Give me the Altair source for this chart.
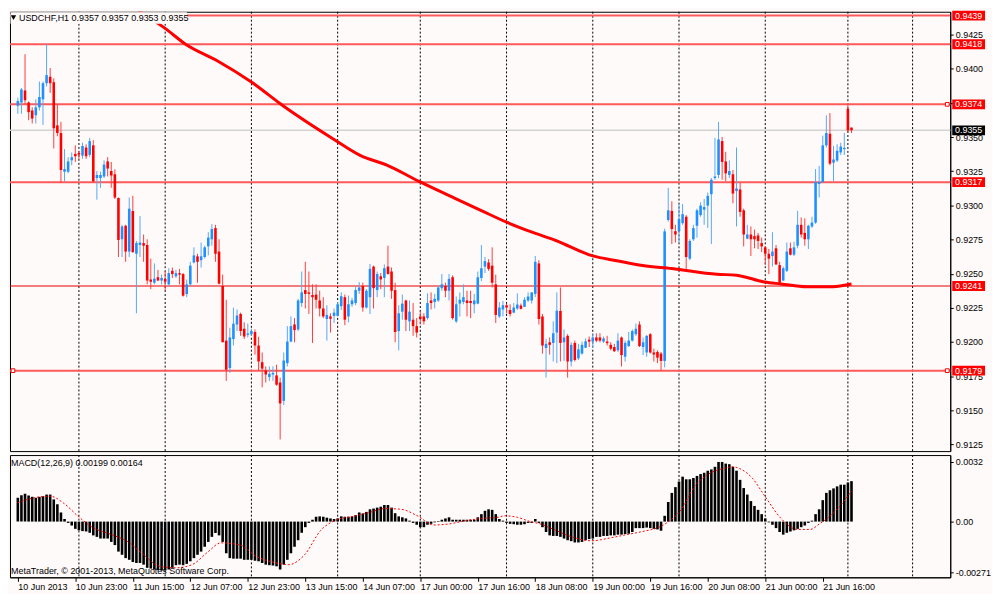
import altair as alt
import pandas as pd

# ---------------- data ----------------
OPEN = [
0.93730, 0.93754, 0.93841, 0.93754, 0.93695, 0.93660, 0.93718, 0.93777, 0.93895, 0.93942,
0.93902, 0.93586, 0.93530, 0.93247, 0.93247, 0.93330, 0.93377, 0.93384, 0.93365, 0.93424,
0.93370, 0.93440, 0.93200, 0.93200, 0.93212, 0.93322, 0.93252, 0.93228, 0.93054, 0.92752,
0.92851, 0.92662, 0.92959, 0.92646, 0.92710, 0.92724, 0.92710, 0.92457, 0.92434, 0.92474,
0.92450, 0.92462, 0.92422, 0.92521, 0.92481, 0.92504, 0.92497, 0.92351, 0.92422, 0.92582,
0.92627, 0.92599, 0.92622, 0.92700, 0.92752, 0.92834, 0.92662, 0.92410, 0.92010, 0.91809,
0.92021, 0.92128, 0.92205, 0.92097, 0.92052, 0.92057, 0.92073, 0.91974, 0.91852, 0.91791,
0.91743, 0.91762, 0.91755, 0.91703, 0.91569, 0.91845, 0.92003, 0.92128, 0.92092, 0.92285,
0.92380, 0.92363, 0.92344, 0.92347, 0.92304, 0.92245, 0.92168, 0.92187, 0.92191, 0.92191,
0.92262, 0.92328, 0.92187, 0.92276, 0.92285, 0.92375, 0.92410, 0.92252, 0.92328, 0.92552,
0.92380, 0.92481, 0.92469, 0.92552, 0.92516, 0.92380, 0.92080, 0.92222, 0.92304, 0.92151,
0.92163, 0.92116, 0.92187, 0.92187, 0.92175, 0.92304, 0.92293, 0.92304, 0.92394, 0.92410,
0.92375, 0.92474, 0.92151, 0.92281, 0.92293, 0.92304, 0.92300, 0.92276, 0.92281, 0.92469,
0.92552, 0.92582, 0.92559, 0.92422, 0.92187, 0.92238, 0.92269, 0.92234, 0.92215, 0.92245,
0.92267, 0.92257, 0.92304, 0.92304, 0.92352, 0.92575, 0.92187, 0.91956, 0.91998, 0.91993,
0.92069, 0.92227, 0.91998, 0.92045, 0.91857, 0.91993, 0.91880, 0.91915, 0.91958, 0.92017,
0.92003, 0.92033, 0.92033, 0.92003, 0.92003, 0.91979, 0.91963, 0.91939, 0.92033, 0.91892,
0.91970, 0.92010, 0.92057, 0.92128, 0.91963, 0.91923, 0.92057, 0.91923, 0.91927, 0.91915,
0.91861, 0.92893, 0.92960, 0.92811, 0.92811, 0.92870, 0.92917, 0.92610, 0.92752, 0.92851,
0.92929, 0.92969, 0.92999, 0.93082, 0.93200, 0.93223, 0.93471, 0.93322, 0.93223, 0.93228,
0.93105, 0.93117, 0.92964, 0.92757, 0.92787, 0.92775, 0.92780, 0.92724, 0.92693, 0.92646,
0.92629, 0.92686, 0.92563, 0.92450, 0.92521, 0.92686, 0.92639, 0.92705, 0.92858, 0.92799,
0.92752, 0.92846, 0.92874, 0.93157, 0.93171, 0.93440, 0.93525, 0.93313, 0.93329, 0.93388,
0.93412, 0.93706, 0.93570]

HIGH = [
0.93789, 0.93860, 0.94107, 0.93761, 0.93718, 0.93777, 0.93907, 0.93907, 0.94180, 0.94006,
0.93930, 0.93742, 0.93612, 0.93412, 0.93353, 0.93388, 0.93440, 0.93400, 0.93459, 0.93447,
0.93494, 0.93478, 0.93252, 0.93247, 0.93330, 0.93353, 0.93318, 0.93264, 0.93058, 0.92858,
0.92858, 0.93058, 0.93070, 0.92740, 0.92922, 0.92787, 0.92752, 0.92610, 0.92575, 0.92528,
0.92493, 0.92521, 0.92540, 0.92545, 0.92528, 0.92535, 0.92504, 0.92457, 0.92587, 0.92693,
0.92646, 0.92728, 0.92705, 0.92804, 0.92863, 0.92858, 0.92752, 0.92493, 0.92309, 0.92104,
0.92252, 0.92238, 0.92215, 0.92144, 0.92135, 0.92097, 0.92092, 0.92038, 0.91923, 0.91821,
0.91821, 0.91821, 0.91833, 0.91739, 0.91923, 0.92116, 0.92187, 0.92175, 0.92316, 0.92516,
0.92587, 0.92516, 0.92422, 0.92422, 0.92375, 0.92328, 0.92269, 0.92210, 0.92245, 0.92293,
0.92363, 0.92347, 0.92340, 0.92323, 0.92403, 0.92439, 0.92434, 0.92387, 0.92571, 0.92559,
0.92516, 0.92505, 0.92568, 0.92705, 0.92545, 0.92434, 0.92269, 0.92347, 0.92309, 0.92304,
0.92285, 0.92175, 0.92227, 0.92210, 0.92356, 0.92363, 0.92352, 0.92410, 0.92498, 0.92434,
0.92498, 0.92488, 0.92333, 0.92363, 0.92422, 0.92375, 0.92375, 0.92352, 0.92516, 0.92710,
0.92623, 0.92606, 0.92693, 0.92493, 0.92293, 0.92300, 0.92281, 0.92276, 0.92285, 0.92356,
0.92281, 0.92328, 0.92363, 0.92363, 0.92630, 0.92599, 0.92205, 0.92022, 0.92033, 0.92151,
0.92363, 0.92399, 0.92092, 0.92057, 0.91998, 0.92010, 0.91986, 0.92003, 0.92026, 0.92040,
0.92064, 0.92064, 0.92064, 0.92040, 0.92045, 0.91998, 0.91986, 0.92064, 0.92040, 0.92010,
0.92073, 0.92092, 0.92135, 0.92151, 0.92033, 0.92050, 0.92064, 0.91951, 0.91939, 0.91927,
0.92830, 0.93129, 0.93030, 0.92858, 0.93011, 0.93011, 0.92929, 0.92752, 0.92858, 0.92976,
0.93023, 0.93047, 0.93094, 0.93200, 0.93494, 0.93612, 0.93501, 0.93393, 0.93329, 0.93259,
0.93424, 0.93164, 0.92976, 0.92858, 0.92846, 0.92823, 0.92799, 0.92764, 0.92700, 0.92681,
0.92804, 0.92710, 0.92587, 0.92552, 0.92728, 0.92728, 0.92733, 0.92960, 0.92912, 0.92905,
0.92858, 0.92917, 0.93266, 0.93289, 0.93511, 0.93659, 0.93676, 0.93435, 0.93447, 0.93459,
0.93530, 0.93742, 0.93570]

LOW = [
0.93671, 0.93671, 0.93742, 0.93624, 0.93600, 0.93600, 0.93695, 0.93589, 0.93871, 0.93824,
0.93417, 0.93506, 0.93164, 0.93176, 0.93235, 0.93294, 0.93318, 0.93341, 0.93341, 0.93341,
0.93353, 0.93164, 0.93042, 0.93129, 0.93200, 0.93212, 0.93129, 0.93047, 0.92622, 0.92622,
0.92587, 0.92622, 0.92653, 0.92210, 0.92622, 0.92587, 0.92422, 0.92387, 0.92422, 0.92446,
0.92422, 0.92380, 0.92410, 0.92469, 0.92469, 0.92422, 0.92332, 0.92328, 0.92410, 0.92575,
0.92434, 0.92545, 0.92611, 0.92634, 0.92705, 0.92587, 0.92422, 0.91998, 0.91715, 0.91774,
0.91974, 0.92080, 0.92045, 0.92022, 0.92033, 0.92045, 0.91908, 0.91791, 0.91668, 0.91703,
0.91715, 0.91715, 0.91680, 0.91286, 0.91538, 0.91821, 0.91998, 0.91998, 0.92080, 0.92257,
0.92245, 0.92205, 0.91993, 0.92245, 0.92187, 0.92175, 0.92010, 0.92069, 0.92139, 0.92187,
0.92234, 0.92123, 0.92144, 0.92257, 0.92269, 0.92352, 0.92222, 0.92245, 0.92205, 0.92245,
0.92328, 0.92387, 0.92328, 0.92493, 0.92316, 0.91998, 0.91939, 0.92163, 0.92080, 0.92080,
0.92045, 0.92033, 0.92128, 0.92128, 0.92163, 0.92238, 0.92245, 0.92293, 0.92375, 0.92328,
0.92304, 0.92163, 0.92139, 0.92187, 0.92276, 0.92187, 0.92175, 0.92210, 0.92276, 0.92446,
0.92505, 0.92521, 0.92399, 0.92139, 0.92175, 0.92187, 0.92210, 0.92187, 0.92210, 0.92234,
0.92238, 0.92257, 0.92293, 0.92281, 0.92328, 0.92128, 0.91915, 0.91739, 0.91908, 0.91857,
0.91845, 0.91857, 0.91861, 0.91739, 0.91821, 0.91857, 0.91868, 0.91908, 0.91956, 0.91963,
0.91956, 0.91998, 0.91998, 0.91993, 0.91974, 0.91939, 0.91927, 0.91927, 0.91821, 0.91857,
0.91963, 0.92003, 0.92045, 0.91963, 0.91904, 0.91892, 0.91915, 0.91857, 0.91845, 0.91790,
0.91814, 0.92881, 0.92717, 0.92728, 0.92728, 0.92858, 0.92528, 0.92599, 0.92740, 0.92764,
0.92917, 0.92858, 0.92834, 0.92717, 0.93188, 0.93200, 0.93188, 0.93176, 0.93200, 0.93016,
0.92846, 0.92917, 0.92700, 0.92752, 0.92629, 0.92686, 0.92681, 0.92658, 0.92563, 0.92497,
0.92552, 0.92563, 0.92417, 0.92446, 0.92512, 0.92634, 0.92629, 0.92686, 0.92764, 0.92705,
0.92681, 0.92834, 0.92865, 0.93058, 0.93164, 0.93424, 0.93294, 0.93176, 0.93318, 0.93369,
0.93369, 0.93534, 0.93530]

CLOSE = [
0.93765, 0.93848, 0.93770, 0.93683, 0.93636, 0.93718, 0.93794, 0.93895, 0.93954, 0.93895,
0.93565, 0.93530, 0.93259, 0.93266, 0.93322, 0.93353, 0.93360, 0.93372, 0.93435, 0.93360,
0.93471, 0.93176, 0.93223, 0.93223, 0.93299, 0.93270, 0.93219, 0.93058, 0.92747, 0.92846,
0.92662, 0.92976, 0.92658, 0.92724, 0.92728, 0.92705, 0.92450, 0.92441, 0.92464, 0.92450,
0.92469, 0.92441, 0.92504, 0.92497, 0.92504, 0.92493, 0.92339, 0.92422, 0.92559, 0.92634,
0.92587, 0.92627, 0.92693, 0.92764, 0.92827, 0.92646, 0.92427, 0.91998, 0.91797, 0.92033,
0.92134, 0.92194, 0.92080, 0.92040, 0.92062, 0.92080, 0.91974, 0.91857, 0.91805, 0.91762,
0.91767, 0.91774, 0.91687, 0.91550, 0.91864, 0.92003, 0.92116, 0.92087, 0.92304, 0.92363,
0.92352, 0.92352, 0.92328, 0.92309, 0.92245, 0.92187, 0.92198, 0.92170, 0.92215, 0.92276,
0.92335, 0.92163, 0.92276, 0.92304, 0.92380, 0.92399, 0.92252, 0.92375, 0.92535, 0.92394,
0.92498, 0.92458, 0.92540, 0.92498, 0.92375, 0.92073, 0.92210, 0.92281, 0.92163, 0.92222,
0.92116, 0.92069, 0.92168, 0.92151, 0.92285, 0.92285, 0.92316, 0.92399, 0.92422, 0.92375,
0.92462, 0.92175, 0.92276, 0.92309, 0.92328, 0.92285, 0.92285, 0.92304, 0.92474, 0.92540,
0.92592, 0.92535, 0.92434, 0.92198, 0.92252, 0.92269, 0.92252, 0.92205, 0.92252, 0.92274,
0.92243, 0.92309, 0.92333, 0.92363, 0.92587, 0.92168, 0.91974, 0.91986, 0.91979, 0.92064,
0.92229, 0.91993, 0.92033, 0.91857, 0.91979, 0.91868, 0.91946, 0.91979, 0.92005, 0.92003,
0.92033, 0.92010, 0.92010, 0.92026, 0.91991, 0.91951, 0.91932, 0.92010, 0.91904, 0.91993,
0.92010, 0.92080, 0.92097, 0.91970, 0.91998, 0.92045, 0.91923, 0.91908, 0.91885, 0.91861,
0.92810, 0.92964, 0.92827, 0.92787, 0.92898, 0.92936, 0.92622, 0.92740, 0.92834, 0.92964,
0.92999, 0.92988, 0.93070, 0.93188, 0.93212, 0.93483, 0.93318, 0.93235, 0.93252, 0.93087,
0.93124, 0.92952, 0.92787, 0.92787, 0.92752, 0.92752, 0.92740, 0.92700, 0.92646, 0.92610,
0.92662, 0.92568, 0.92434, 0.92540, 0.92662, 0.92639, 0.92693, 0.92858, 0.92787, 0.92752,
0.92851, 0.92874, 0.93171, 0.93171, 0.93440, 0.93530, 0.93306, 0.93336, 0.93400, 0.93431,
0.93421, 0.93549, 0.93550]

MACD = [
0.00128, 0.00142, 0.00149, 0.00140, 0.00133, 0.00128, 0.00133, 0.00136, 0.00145, 0.00145,
0.00119, 0.00093, 0.00049, 0.00014, -0.00007, -0.00021, -0.00039, -0.00047, -0.00051, -0.00053,
-0.00060, -0.00074, -0.00082, -0.00091, -0.00091, -0.00091, -0.00109, -0.00126, -0.00161, -0.00178,
-0.00196, -0.00205, -0.00217, -0.00222, -0.00222, -0.00231, -0.00248, -0.00252, -0.00257, -0.00261,
-0.00262, -0.00262, -0.00257, -0.00248, -0.00234, -0.00231, -0.00234, -0.00227, -0.00213, -0.00196,
-0.00178, -0.00161, -0.00135, -0.00109, -0.00082, -0.00061, -0.00074, -0.00109, -0.00170, -0.00196,
-0.00199, -0.00199, -0.00199, -0.00205, -0.00205, -0.00205, -0.00210, -0.00213, -0.00222, -0.00231,
-0.00234, -0.00236, -0.00240, -0.00257, -0.00231, -0.00205, -0.00170, -0.00135, -0.00100, -0.00060,
-0.00030, -0.00007, 0.00010, 0.00026, 0.00028, 0.00026, 0.00021, 0.00017, 0.00014, 0.00017,
0.00028, 0.00026, 0.00026, 0.00028, 0.00035, 0.00049, 0.00044, 0.00052, 0.00066, 0.00070,
0.00075, 0.00080, 0.00089, 0.00089, 0.00075, 0.00045, 0.00028, 0.00023, 0.00017, 0.00005,
-0.00007, -0.00017, -0.00030, -0.00030, -0.00017, -0.00012, -0.00004, 0.00003, 0.00010, 0.00017,
0.00023, 0.00010, 0.00010, 0.00010, 0.00010, 0.00010, 0.00010, 0.00010, 0.00023, 0.00040,
0.00058, 0.00066, 0.00063, 0.00040, 0.00014, 0.00005, -0.00007, -0.00012, -0.00014, -0.00017,
-0.00017, -0.00014, -0.00007, -0.00007, 0.00014, -0.00007, -0.00030, -0.00056, -0.00074, -0.00077,
-0.00077, -0.00082, -0.00091, -0.00100, -0.00105, -0.00112, -0.00112, -0.00109, -0.00100, -0.00094,
-0.00091, -0.00082, -0.00082, -0.00077, -0.00077, -0.00074, -0.00074, -0.00070, -0.00070, -0.00067,
-0.00065, -0.00056, -0.00035, -0.00035, -0.00035, -0.00032, -0.00035, -0.00039, -0.00042, -0.00049,
0.00031, 0.00105, 0.00154, 0.00185, 0.00215, 0.00241, 0.00227, 0.00227, 0.00234, 0.00245,
0.00255, 0.00262, 0.00273, 0.00280, 0.00294, 0.00320, 0.00320, 0.00311, 0.00308, 0.00294,
0.00273, 0.00224, 0.00180, 0.00145, 0.00110, 0.00084, 0.00063, 0.00040, 0.00017, -0.00004,
-0.00017, -0.00035, -0.00056, -0.00070, -0.00060, -0.00053, -0.00047, -0.00039, -0.00030, -0.00021,
-0.00007, 0.00005, 0.00040, 0.00066, 0.00115, 0.00154, 0.00168, 0.00178, 0.00189, 0.00198,
0.00198, 0.00210, 0.00217]

SIGNAL_BAR = [0, 4.6, 9.1, 12.6, 17.1, 20.7, 26.1, 30.6, 35.0, 39.5, 44.0, 48.5, 53.0, 56.5,
              61.9, 66.4, 70.9, 75.4, 79.8, 84.3, 88.8, 93.3, 97.8, 102.2, 106.7, 111.2, 115.7,
              120.2, 124.6, 129.1, 133.6, 135.4, 139.0, 142.6, 145.3, 149.7, 154.2, 159.6, 165.0,
              169.4, 173.9, 178.4, 181.1, 184.7, 188.3, 191.8, 196.3, 199.0, 200.8, 204.4, 207.9,
              212.4, 216.9, 220.5, 223.1, 227.6, 232]
SIGNAL_VAL = [0.00101, 0.00128, 0.00136, 0.00101, 0.00023, -0.00030, -0.00070, -0.00108, -0.00178,
              -0.00240, -0.00248, -0.00231, -0.00161, -0.00114, -0.00126, -0.00187, -0.00217,
              -0.00231, -0.00178, -0.00047, 0.00010, 0.00028, 0.00049, 0.00070, 0.00066, 0.00031,
              -0.00018, -0.00012, 0.00005, 0.00017, 0.00023, 0.00031, 0.00023, 0.00000, -0.00012,
              -0.00047, -0.00082, -0.00103, -0.00087, -0.00070, -0.00053, -0.00030, 0.00000,
              0.00066, 0.00189, 0.00250, 0.00285, 0.00294, 0.00285, 0.00233, 0.00136, 0.00017,
              -0.00042, -0.00042, -0.00012, 0.00058, 0.00164]

MA_BAR = [33.6, 40.9, 46.8, 55.6, 65.1, 73.7, 87.9, 95.4, 102.7, 111.8, 121.5, 129.0, 136.0,
          143.5, 149.7, 160.0, 166.7, 173.9, 182.0, 194.6, 200.0, 207.8, 212.4, 219.6, 225.8, 232]
MA_VAL = [0.94425, 0.94298, 0.94178, 0.94058, 0.93902, 0.93732, 0.93485, 0.93365, 0.93295,
          0.93174, 0.93054, 0.92962, 0.92877, 0.92800, 0.92743, 0.92630, 0.92595, 0.92560,
          0.92538, 0.92496, 0.92489, 0.92439, 0.92425, 0.92404, 0.92404, 0.92425]

LEVELS_THICK = [0.9439, 0.9418, 0.9374, 0.9317, 0.9179]
LEVELS_THIN = [0.9241]
BID = [0.9355]
SQUARE_RIGHT = [0.9374, 0.9179]
SQUARE_LEFT = [0.9179]

GRID_BARS = [17, 41, 65, 89, 112, 136, 160, 184, 208, 231, 249]
TICK_BARS = [0, 16, 32, 48, 64, 80, 96, 112, 128, 144, 160, 176, 192, 208, 224]
TICK_LABELS = ["10 Jun 2013", "10 Jun 23:00", "11 Jun 15:00", "12 Jun 07:00", "12 Jun 23:00",
               "13 Jun 15:00", "14 Jun 07:00", "17 Jun 00:00", "17 Jun 16:00", "18 Jun 08:00",
               "19 Jun 00:00", "19 Jun 16:00", "20 Jun 08:00", "21 Jun 00:00", "21 Jun 16:00"]
PRICE_TICKS = [0.9125, 0.9150, 0.9175, 0.9200, 0.9225, 0.9250, 0.9275, 0.9300, 0.9325,
               0.9350, 0.9375, 0.9400, 0.9425]
MACD_TICKS = [0.0032, 0.0, -0.00271]

TITLE = "USDCHF,H1  0.9357 0.9357 0.9353 0.9355"
MACD_TITLE = "MACD(12,26,9) 0.00199 0.00164"
COPYRIGHT = "MetaTrader, \u00a9 2001-2013, MetaQuotes Software Corp."

# ---------------- layout / style ----------------
W, H_MAIN, H_MACD = 946, 442, 123
FONT = "Liberation Sans"
BG = "#fffafa"
BOX = "M-1,-0.3H1V0.3H-1Z"
LAB_X = W + 18.5

n = min(len(OPEN), len(HIGH), len(LOW), len(CLOSE))
candles = pd.DataFrame({"i": list(range(n)), "open": OPEN[:n], "high": HIGH[:n],
                        "low": LOW[:n], "close": CLOSE[:n]})
m = len(MACD)
macd_df = pd.DataFrame({"i": list(range(m)), "v": MACD})
sig_df = pd.DataFrame({"i": SIGNAL_BAR, "v": SIGNAL_VAL})
ma_df = pd.DataFrame({"i": MA_BAR, "v": MA_VAL})
grid_df = pd.DataFrame({"i": GRID_BARS})

x_scale = alt.Scale(domain=[-0.8, 258.1], nice=False, zero=False)
x_top = alt.X("i:Q", scale=x_scale, axis=None)

labels_js = "[" + ",".join("'" + s + "'" for s in TICK_LABELS) + "]"
bars_js = "[" + ",".join(str(b) for b in TICK_BARS) + "]"
x_axis_bottom = alt.Axis(values=TICK_BARS, labelExpr=labels_js + "[indexof(" + bars_js + ", datum.value)]",
                         title=None, grid=False, domainColor="#000000", tickColor="#000000",
                         tickSize=4, labelColor="#000000", labelFont=FONT, labelFontSize=9,
                         labelAlign="left", labelBaseline="top", labelPadding=1,
                         labelOverlap=False, labelFlush=False)
x_bot = alt.X("i:Q", scale=x_scale, axis=x_axis_bottom)

y_scale_main = alt.Scale(domain=[0.91201, 0.94418], nice=False, zero=False)
y_axis_main = alt.Axis(orient="right", values=PRICE_TICKS, format=".4f", title=None, grid=False,
                       domainColor="#000000", tickColor="#000000", tickSize=3,
                       labelColor="#000000", labelFont=FONT, labelFontSize=9, labelPadding=2,
                       labelOverlap=False, labelFlush=False)


def ym(field):
    return alt.Y(field, scale=y_scale_main, axis=y_axis_main)


grid_top = alt.Chart(grid_df).mark_rule(color="#000000", strokeDash=[2, 2], strokeWidth=1).encode(x=x_top)

lv_thick = alt.Chart(pd.DataFrame({"p": LEVELS_THICK})).mark_rule(
    color="#ff5a5a", strokeWidth=2).encode(y=ym("p:Q"))
lv_thin = alt.Chart(pd.DataFrame({"p": LEVELS_THIN})).mark_rule(
    color="#e60000", strokeWidth=1.2).encode(y=ym("p:Q"))
bid_line = alt.Chart(pd.DataFrame({"p": BID})).mark_rule(
    color="#d2d2d2", strokeWidth=1.6).encode(y=ym("p:Q"))

wicks = alt.Chart(candles).transform_calculate(
    wc="datum.close >= datum.open ? '#55a8f7' : '#ff3c3c'"
).mark_rule(strokeWidth=1).encode(
    x=x_top, y=ym("low:Q"), y2="high:Q", color=alt.Color("wc:N", scale=None))

bodies = alt.Chart(candles).transform_calculate(
    bc="datum.close >= datum.open ? '#1e90ff' : '#ff0000'"
).mark_bar(width=2.6, strokeWidth=0).encode(
    x=x_top, y=ym("open:Q"), y2="close:Q", color=alt.Color("bc:N", scale=None))

ma_line = alt.Chart(ma_df).mark_line(color="#ff0000", strokeWidth=3, clip=True,
                                     interpolate="monotone").encode(x=x_top, y=ym("v:Q"))

title_df = pd.DataFrame({"t": [TITLE]})
title_bg = alt.Chart(title_df).mark_rect(color=BG).encode(
    x=alt.value(0.5), x2=alt.value(178), y=alt.value(0.5), y2=alt.value(12))
title_tri = alt.Chart(title_df).mark_point(shape="triangle-down", filled=True, color="#000000",
                                           size=30, opacity=1).encode(x=alt.value(3.5), y=alt.value(6))
title_txt = alt.Chart(title_df).mark_text(align="left", baseline="middle", font=FONT, fontSize=9,
                                          color="#000000").encode(
    x=alt.value(9), y=alt.value(6), text="t:N")

sq_right = alt.Chart(pd.DataFrame({"p": SQUARE_RIGHT})).mark_point(
    shape="square", filled=True, fill=BG, stroke="#ff0000", strokeWidth=1, size=14, opacity=1
).encode(x=alt.value(W - 3), y=ym("p:Q"))
sq_left = alt.Chart(pd.DataFrame({"p": SQUARE_LEFT})).mark_point(
    shape="square", filled=True, fill=BG, stroke="#ff0000", strokeWidth=1, size=14, opacity=1
).encode(x=alt.value(3), y=ym("p:Q"))

lab_df = pd.DataFrame({"p": LEVELS_THICK + LEVELS_THIN})
bid_df = pd.DataFrame({"p": BID})
lab_box = alt.Chart(lab_df).mark_point(shape=BOX, size=1089, filled=True, color="#ff0000",
                                       opacity=1, strokeWidth=0).encode(
    x=alt.value(LAB_X), y=ym("p:Q"))
bid_box = alt.Chart(bid_df).mark_point(shape=BOX, size=1089, filled=True, color="#000000",
                                       opacity=1, strokeWidth=0).encode(
    x=alt.value(LAB_X), y=ym("p:Q"))
lab_txt = alt.Chart(pd.DataFrame({"p": LEVELS_THICK + LEVELS_THIN + BID})).mark_text(
    color="#ffffff", font=FONT, fontSize=9, align="center", baseline="middle").encode(
    x=alt.value(LAB_X), y=ym("p:Q"), text=alt.Text("p:Q", format=".4f"))

top = alt.layer(grid_top, lv_thick, lv_thin, bid_line, wicks, bodies, ma_line,
                title_bg, title_tri, title_txt, sq_right, sq_left,
                lab_box, bid_box, lab_txt).properties(width=W, height=H_MAIN)

# ---------------- MACD panel ----------------
y_scale_macd = alt.Scale(domain=[-0.00299, 0.00357], nice=False, zero=False)
y_axis_macd = alt.Axis(orient="right", values=MACD_TICKS,
                       labelExpr="datum.value > 0.003 ? '0.0032' : (datum.value < -0.002 ? '-0.00271' : '0.00')",
                       title=None, grid=False, domainColor="#000000", tickColor="#000000",
                       tickSize=3, labelColor="#000000", labelFont=FONT, labelFontSize=9,
                       labelPadding=2, labelOverlap=False, labelFlush=False)


def ymacd(field):
    return alt.Y(field, scale=y_scale_macd, axis=y_axis_macd)


grid_bot = alt.Chart(grid_df).mark_rule(color="#000000", strokeDash=[2, 2], strokeWidth=1).encode(x=x_bot)
hist = alt.Chart(macd_df).mark_bar(width=2.6, color="#000000", strokeWidth=0).encode(
    x=x_bot, y=ymacd("v:Q"), y2=alt.datum(0))
signal = alt.Chart(sig_df).mark_line(color="#ff0000", strokeWidth=1, strokeDash=[2, 2],
                                     interpolate="monotone").encode(x=x_bot, y=ymacd("v:Q"))
macd_txt = alt.Chart(pd.DataFrame({"t": [MACD_TITLE]})).mark_text(
    align="left", baseline="middle", font=FONT, fontSize=9, color="#000000").encode(
    x=alt.value(1), y=alt.value(8), text="t:N")
copy_txt = alt.Chart(pd.DataFrame({"t": [COPYRIGHT]})).mark_text(
    align="left", baseline="middle", font=FONT, fontSize=9, color="#000000").encode(
    x=alt.value(1), y=alt.value(117), text="t:N")

bottom = alt.layer(grid_bot, hist, signal, macd_txt, copy_txt).properties(width=W, height=H_MACD)

chart = alt.vconcat(top, bottom, spacing=2).properties(
    background=BG, padding=0
).configure_view(stroke="#000000", strokeWidth=1)

chart.save("out.html", embed_options={"renderer": "svg", "actions": False})
